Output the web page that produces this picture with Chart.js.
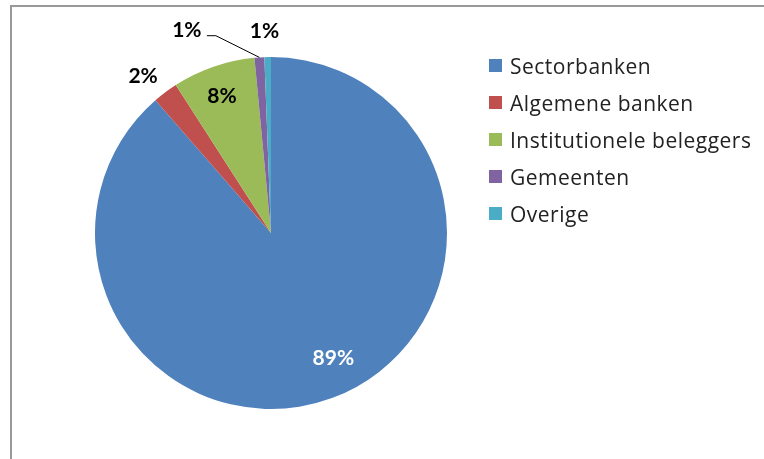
<!DOCTYPE html>
<html>
<head>
<meta charset="utf-8">
<script src="https://cdn.jsdelivr.net/npm/chart.js@4/dist/chart.umd.min.js"></script>
<style>
  body { margin: 0; background: #fff; }
  #wrap { position: relative; width: 764px; height: 459px; overflow: hidden; }
  #frame { position: absolute; left: 10px; top: 5px; width: 800px; height: 500px;
           border-left: 2px solid #999; border-top: 2px solid #999; }
  #pieChart { position: absolute; left: 0; top: 0; }
  #legend { position: absolute; left: 489px; top: 47px; margin: 0; padding: 0; list-style: none;
            font-family: "Open Sans", sans-serif; font-size: 21px; color: #222; letter-spacing: 0.5px; }
  #legend li { display: flex; align-items: center; height: 37px; white-space: nowrap; }
  #legend span.box { display: inline-block; width: 13px; height: 13px; margin-right: 8px; }
</style>
</head>
<body>
<div id="wrap">
  <div id="frame"></div>
  <canvas id="pieChart" width="764" height="459"></canvas>
  <ul id="legend"></ul>
</div>
<script>
document.addEventListener("DOMContentLoaded", function () {
    const ctx = document.getElementById("pieChart").getContext("2d");

    // Data
    const labels = ["Sectorbanken", "Algemene banken", "Institutionele beleggers", "Gemeenten", "Overige"];
    const values = [88.6, 2.3, 7.6, 0.9, 0.6];
    const colors = ["#4F81BD", "#C0504D", "#9BBB59", "#8064A2", "#4BACC6"];

    // where each percentage label sits: fraction of radius, angle shift (deg), colour, leader line
    const labelPlacement = [
        { f: 0.79, shift: -6.1, color: "#fff" },
        { f: 1.155, shift: -2.1, color: "#000" },
        { f: 0.832, shift: -0.5, color: "#000" },
        { f: 1.25, shift: -18.7, color: "#000", leader: true },
        { f: 1.154, shift: -0.75, color: "#000" },
    ];

    const pieLabels = {
        id: "pieLabels",
        afterDatasetsDraw(chart) {
            const c = chart.ctx;
            const meta = chart.getDatasetMeta(0);
            const total = values.reduce((a, b) => a + b, 0);
            c.save();
            c.font = "bold 21px Lato, sans-serif";
            c.textAlign = "center";
            c.textBaseline = "middle";
            meta.data.forEach(function (arc, i) {
                const p = arc.getProps(["x", "y", "startAngle", "endAngle", "outerRadius"], true);
                const pl = labelPlacement[i];
                const mid = (p.startAngle + p.endAngle) / 2;
                const a = mid + pl.shift * Math.PI / 180;
                const lx = p.x + Math.cos(a) * p.outerRadius * pl.f;
                const ly = p.y + Math.sin(a) * p.outerRadius * pl.f;
                c.fillStyle = pl.color;
                c.fillText(Math.round(values[i] / total * 100) + "%", lx, ly + 1);
                if (pl.leader) {
                    c.strokeStyle = "#000";
                    c.lineWidth = 1;
                    c.beginPath();
                    c.moveTo(lx + 20, ly + 6);
                    c.lineTo(lx + 29, ly + 6);
                    c.lineTo(p.x + Math.cos(mid) * p.outerRadius, p.y + Math.sin(mid) * p.outerRadius);
                    c.stroke();
                }
            });
            c.restore();
        }
    };

    const htmlLegend = {
        id: "htmlLegend",
        afterUpdate(chart) {
            const ul = document.getElementById("legend");
            ul.innerHTML = "";
            chart.data.labels.forEach(function (label, i) {
                const li = document.createElement("li");
                const box = document.createElement("span");
                box.className = "box";
                box.style.background = chart.data.datasets[0].backgroundColor[i];
                li.appendChild(box);
                li.appendChild(document.createTextNode(label));
                ul.appendChild(li);
            });
        }
    };

    new Chart(ctx, {
        type: "pie",
        data: {
            labels: labels,
            datasets: [{
                data: values,
                backgroundColor: colors,
                borderWidth: 0,
            }],
        },
        options: {
            responsive: false,
            animation: false,
            layout: { padding: { left: 95, right: 317, top: 57, bottom: 50 } },
            plugins: {
                legend: { display: false },
                tooltip: { enabled: false },
            },
        },
        plugins: [pieLabels, htmlLegend],
    });
});
</script>
</body>
</html>
